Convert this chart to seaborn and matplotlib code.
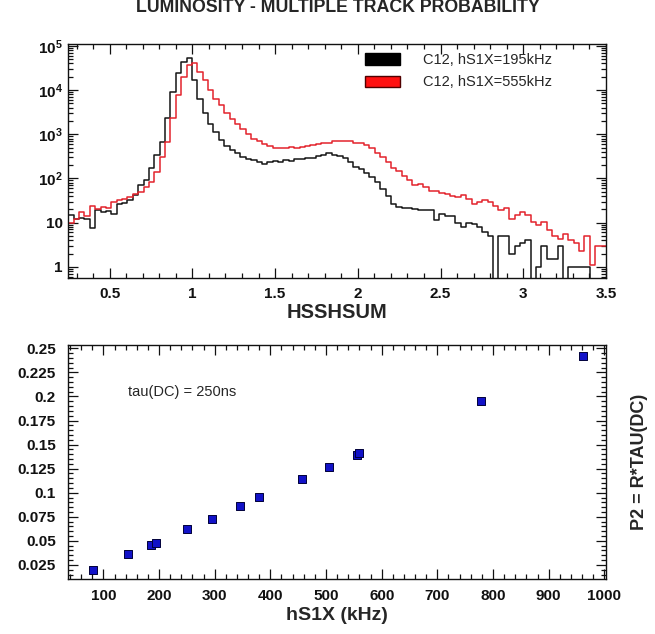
import numpy as np
import pandas as pd
import matplotlib
matplotlib.use("Agg")
import matplotlib.pyplot as plt
import seaborn as sns
from matplotlib.patches import Patch
from matplotlib.ticker import MultipleLocator, LogLocator, FuncFormatter, NullFormatter

# ---------------- data ----------------
title = "LUMINOSITY - MULTIPLE TRACK PROBABILITY"
bin_lo, bin_hi, n_bins = 0.25, 3.5, 100

label_195 = "C12, hS1X=195kHz"
label_555 = "C12, hS1X=555kHz"

counts_195 = [15, 12, 13, 12, 7.5, 19, 17, 18, 16, 27,
              28, 33, 42, 72, 90, 175, 340, 680, 2300, 9100,
              24000, 44000, 54000, 16500, 6200, 3000, 1700, 1100, 760, 540,
              440, 370, 310, 280, 260, 230, 212, 235, 250, 235,
              265, 250, 275, 275, 295, 285, 320, 340, 370, 345,
              320, 290, 230, 180, 160, 134, 107, 82, 58, 40,
              27, 23, 22, 21, 20, 19, 19, 19, 11.5, 16,
              14, 14, 10, 8, 10, 9.5, 8, 6, 5, 0,
              5, 5, 2, 3, 3.5, 4, 0, 1, 3, 1.5,
              1.5, 3, 0, 1, 1, 1, 1, 0, 0, 0]

counts_555 = [10, 12, 17, 14, 24, 20, 23, 21, 29, 33,
              35, 39, 45, 50, 65, 84, 140, 310, 680, 2300,
              7600, 20000, 36000, 41000, 25000, 16500, 10000, 6300, 4500, 3000,
              2200, 1700, 1300, 1000, 800, 690, 610, 540, 490, 500,
              480, 520, 490, 510, 540, 570, 600, 620, 650, 700,
              720, 720, 690, 650, 620, 565, 480, 380, 300, 240,
              175, 150, 115, 90, 72, 76, 64, 52, 52, 48,
              44, 40, 38, 42, 35, 27, 29, 33, 30, 24,
              19, 21, 12, 15, 17, 15, 10.5, 9, 10.5, 6.8,
              5, 4.2, 5.5, 4, 3.5, 2.3, 5, 1.1, 3, 3]

hs1x_khz = [82, 145, 185, 195, 251, 295, 345, 380, 457, 505, 555, 560, 778, 962]
p2_prob = [0.0198, 0.0361, 0.0458, 0.0475, 0.0627, 0.073, 0.0863, 0.0959,
           0.114, 0.1265, 0.139, 0.141, 0.1956, 0.242]

# ---------------- style ----------------
sns.set_style("ticks")
plt.rcParams['font.family'] = ['Liberation Sans', 'DejaVu Sans']
plt.rcParams['mathtext.fontset'] = 'custom'
plt.rcParams['mathtext.rm'] = 'Liberation Sans'
plt.rcParams['mathtext.bf'] = 'Liberation Sans:bold'
plt.rcParams['axes.linewidth'] = 1.0

fig = plt.figure(figsize=(6.55, 6.34), dpi=100)
ax1 = fig.add_axes([0.1043, 0.561, 0.8209, 0.3696])
ax2 = fig.add_axes([0.1043, 0.0863, 0.8209, 0.3695])

width = (bin_hi - bin_lo) / n_bins
centers = bin_lo + width * (np.arange(n_bins) + 0.5)

df195 = pd.DataFrame({"HSSHSUM": centers, "counts": counts_195})
df555 = pd.DataFrame({"HSSHSUM": centers, "counts": counts_555})

sns.histplot(data=df195, x="HSSHSUM", weights="counts", bins=n_bins,
             binrange=(bin_lo, bin_hi), element="step", fill=False,
             color="#151515", linewidth=1.1, ax=ax1)
sns.histplot(data=df555, x="HSSHSUM", weights="counts", bins=n_bins,
             binrange=(bin_lo, bin_hi), element="step", fill=False,
             color="#e3232c", linewidth=1.1, ax=ax1)

ax1.set_yscale("log")
ax1.set_xlim(bin_lo, bin_hi)
ax1.set_ylim(0.55, 1.1e5)
ax1.xaxis.set_major_locator(MultipleLocator(0.5))
ax1.xaxis.set_minor_locator(MultipleLocator(0.1))
ax1.xaxis.set_major_formatter(FuncFormatter(lambda v, p: "%g" % v))
ax1.yaxis.set_major_locator(LogLocator(base=10, numticks=10))
ax1.yaxis.set_minor_locator(LogLocator(base=10, subs=np.arange(2, 10), numticks=20))
ax1.yaxis.set_minor_formatter(NullFormatter())


def logfmt(v, p):
    n = int(round(np.log10(v)))
    if n == 0:
        return "1"
    if n == 1:
        return "10"
    return r"$\mathbf{10^{%d}}$" % n


ax1.yaxis.set_major_formatter(FuncFormatter(logfmt))
ax1.set_xlabel("HSSHSUM", fontsize=14.5, fontweight="bold", labelpad=2)
ax1.set_ylabel("")

handles = [Patch(facecolor="black", edgecolor="black"),
           Patch(facecolor="#ff1010", edgecolor="#500000")]
ax1.legend(handles, [label_195, label_555], loc="upper left",
           bbox_to_anchor=(0.54, 0.985), frameon=False, fontsize=10.5,
           handlelength=2.4, handleheight=0.85, handletextpad=1.6,
           labelspacing=0.55, borderaxespad=0)

# bottom panel
sns.scatterplot(x=hs1x_khz, y=p2_prob, marker="s", s=36, color="#1212c8",
                edgecolor="#00003a", linewidth=0.7, ax=ax2, zorder=3)
ax2.set_xlim(37, 1003)
ax2.set_ylim(0.0101, 0.2534)
ax2.xaxis.set_major_locator(MultipleLocator(100))
ax2.xaxis.set_minor_locator(MultipleLocator(20))
ax2.yaxis.set_major_locator(MultipleLocator(0.025))
ax2.yaxis.set_minor_locator(MultipleLocator(0.005))
ax2.xaxis.set_major_formatter(FuncFormatter(lambda v, p: "%g" % round(v, 6)))
ax2.yaxis.set_major_formatter(FuncFormatter(lambda v, p: "%g" % round(v, 6)))
ax2.set_xlabel("hS1X (kHz)", fontsize=14, fontweight="bold", labelpad=3)
ax2.set_ylabel("")
ax2.text(0.111, 0.80, "tau(DC) = 250ns", transform=ax2.transAxes,
         fontsize=10.5, ha="left", va="center")

for ax in (ax1, ax2):
    ax.tick_params(which="both", direction="in", top=True, right=True,
                   width=0.9, colors="#111111")
    ax.tick_params(which="major", length=7)
    ax.tick_params(which="minor", length=3.5)
    for lab in ax.get_xticklabels() + ax.get_yticklabels():
        lab.set_fontweight("bold")
        lab.set_fontsize(11)
    for s in ax.spines.values():
        s.set_visible(True)
        s.set_color("#111111")

ax1.tick_params(axis="x", which="major", pad=6)
ax1.tick_params(axis="y", which="major", pad=4)
ax2.tick_params(axis="x", which="major", pad=7)
ax2.tick_params(axis="y", which="major", pad=9)

fig.text(0.516, 0.9806, title, ha="center", va="baseline", fontsize=12.8,
         fontweight="bold")
fig.text(0.977, 0.271, "P2 = R*TAU(DC)", rotation=90, ha="center",
         va="center", fontsize=13, fontweight="bold")

fig.savefig("out.png", dpi=100)
